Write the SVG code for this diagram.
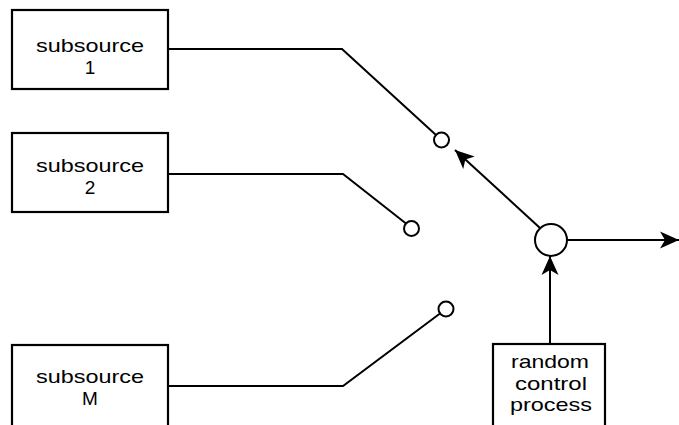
<svg xmlns="http://www.w3.org/2000/svg" width="679" height="425" viewBox="0 0 679 425">
<style>
.box{fill:#fff;stroke:#000;stroke-width:2.2}
.c{fill:#fff;stroke:#000;stroke-width:2}
.ln{fill:none;stroke:#000;stroke-width:2}
.t{font-family:"Liberation Sans",Arial,sans-serif;font-size:19px;text-anchor:middle;fill:#000}
</style>
<defs>
<marker id="ah" markerUnits="userSpaceOnUse" markerWidth="22" markerHeight="22" viewBox="-20 -10 22 20" refX="0" refY="0" orient="auto">
<path d="M0,0 L-19,-8.5 L-14,0 L-19,8.5 Z" fill="#000"/>
</marker>
</defs>
<g id="subsource1">
<rect class="box" x="12" y="10" width="156" height="79"/>
<text class="t" x="90" y="52" textLength="108" lengthAdjust="spacingAndGlyphs">subsource</text>
<text class="t" x="90" y="73.5">1</text>
</g>
<g id="subsource2">
<rect class="box" x="12" y="133" width="156" height="79"/>
<text class="t" x="90" y="172" textLength="108" lengthAdjust="spacingAndGlyphs">subsource</text>
<text class="t" x="90" y="193.5">2</text>
</g>
<g id="subsourceM">
<rect class="box" x="12" y="345" width="156" height="90"/>
<text class="t" x="90" y="383" textLength="108" lengthAdjust="spacingAndGlyphs">subsource</text>
<text class="t" x="90" y="404.5">M</text>
</g>
<g id="random">
<rect class="box" x="493" y="344" width="112" height="90"/>
<text class="t" x="550" y="368" textLength="78" lengthAdjust="spacingAndGlyphs">random</text>
<text class="t" x="551" y="389.5" textLength="72" lengthAdjust="spacingAndGlyphs">control</text>
<text class="t" x="551" y="411" textLength="82" lengthAdjust="spacingAndGlyphs">process</text>
</g>
<g id="contact1"><circle class="c" cx="441.5" cy="140" r="7.5"/></g>
<g id="contact2"><circle class="c" cx="411.5" cy="228.5" r="7.5"/></g>
<g id="contactM"><circle class="c" cx="446" cy="309" r="7.5"/></g>
<g id="switch"><circle class="c" cx="551" cy="240" r="16"/></g>
<g id="connectors">
<polyline class="ln" points="168,49 342,49 436,135"/>
<polyline class="ln" points="168,174 343,174 406,223.5"/>
<polyline class="ln" points="168,386 343,386 440,313.5"/>
<line class="ln" x1="540" y1="228" x2="455" y2="150" marker-end="url(#ah)"/>
<line class="ln" x1="567" y1="240" x2="679" y2="240" marker-end="url(#ah)"/>
<line class="ln" x1="550" y1="344" x2="550" y2="256" marker-end="url(#ah)"/>
</g>
</svg>
